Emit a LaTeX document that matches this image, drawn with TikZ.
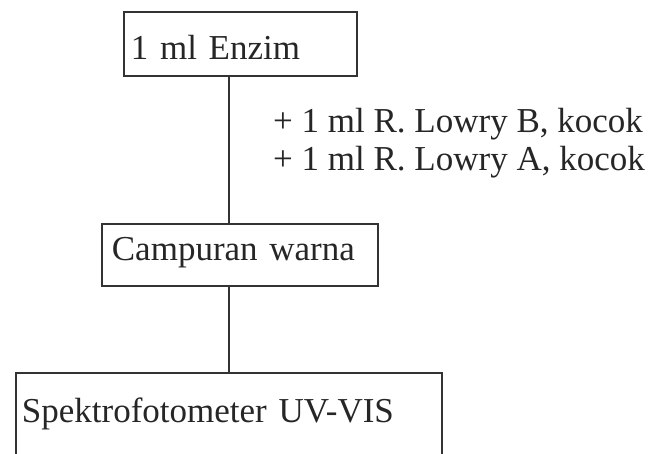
\documentclass[tikz,border=0pt]{standalone}
\usepackage{fontspec}
\setmainfont{Liberation Serif}
\begin{document}
\begin{tikzpicture}[x=1pt,y=-1pt,
  box/.style={draw=black!80, line width=1.8pt, anchor=north west, inner ysep=0pt, align=left,
    font=\fontsize{35}{38}\selectfont, text=black!85},
  note/.style={anchor=base west, inner sep=0pt, font=\fontsize{35}{38}\selectfont, text=black!85},
  link/.style={draw=black!80, line width=1.8pt}]
\useasboundingbox (0,0) rectangle (658,453);
\clip (0,0) rectangle (658,453);
\node[box, minimum width=233pt, text width=219pt, inner xsep=7pt, text height=48pt, text depth=16pt] (enzim) at (123,11) {1 ml Enzim};
\node[box, minimum width=276pt, text width=256pt, inner xsep=10pt, text height=37pt, text depth=25pt] (campuran) at (101,223) {Campuran warna};
\node[box, minimum width=426pt, text width=414pt, inner xsep=6pt, text height=50pt, text depth=48pt] (spektro) at (15,372) {Spektrofotometer UV-VIS};
\coordinate (axis) at (229,0);
\draw[link] (enzim.south -| axis) -- (campuran.north -| axis);
\draw[link] (campuran.south -| axis) -- (spektro.north -| axis);
\node[note] (noteB) at (273,132) {+ 1 ml R. Lowry B, kocok};
\node[note] (noteA) at (273,170) {+ 1 ml R. Lowry A, kocok};
\end{tikzpicture}
\end{document}
